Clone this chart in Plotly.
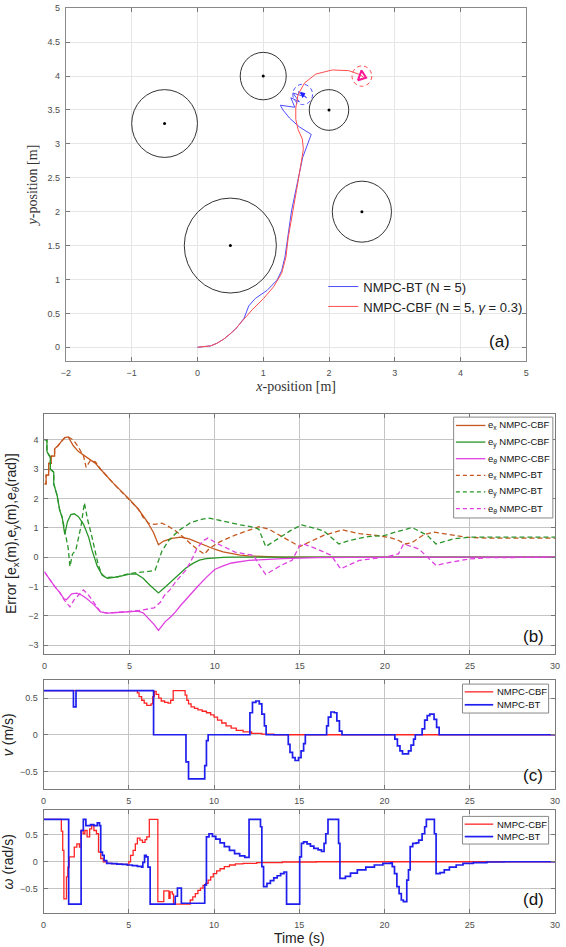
import plotly.graph_objects as go

W, H = 566, 947
def PX(p): return p / W
def PY(p): return 1 - p / H

# ---------------- Panel (a) data ----------------
obs_x = [0.5, -0.5, 1.0, 2.0, 2.5]
obs_y = [1.5, 3.3, 4.0, 3.5, 2.0]
obs_r = [0.7, 0.5, 0.35, 0.3, 0.45]

bt_x = [0, 0.1, 0.2, 0.3, 0.4, 0.5, 0.58, 0.64, 0.71, 0.78, 0.88, 1.06, 1.21, 1.28, 1.33, 1.36,
        1.38, 1.43, 1.505, 1.6, 1.73, 1.55, 1.40, 1.30, 1.26, 1.48, 1.42, 1.55, 1.45, 1.62, 1.53, 1.66, 1.6]
bt_y = [0, 0.005, 0.02, 0.06, 0.12, 0.2, 0.27, 0.34, 0.43, 0.61, 0.72, 0.84, 0.99, 1.13, 1.33, 1.53,
        1.68, 2.01, 2.36, 2.8, 3.14, 3.25, 3.38, 3.50, 3.57, 3.54, 3.68, 3.62, 3.75, 3.70, 3.77, 3.68, 3.73]

cbf_x = [0, 0.1, 0.2, 0.3, 0.4, 0.5, 0.58, 0.64, 0.83, 1.006, 1.156, 1.28, 1.345, 1.38, 1.43, 1.505,
         1.565, 1.61, 1.595, 1.53, 1.495, 1.495, 1.53, 1.63, 1.80, 2.05, 2.30, 2.475, 2.525]
cbf_y = [0, 0.005, 0.02, 0.06, 0.12, 0.2, 0.27, 0.34, 0.55, 0.72, 0.89, 1.09, 1.33, 1.62, 1.92, 2.31,
         2.65, 2.92, 3.07, 3.21, 3.36, 3.53, 3.73, 3.90, 4.03, 4.09, 4.08, 4.02, 3.98]

bt_end = (1.6, 3.73, 0.15)      # final position / dashed circle radius
goal = (2.5, 4.0, 0.15)

# ---------------- Panel (b) data ----------------
ex_cbf_t = [0, 0.1, 0.1, 0.25, 0.25, 0.4, 0.4, 0.6, 0.6, 0.8, 1.0, 1.2, 1.4, 1.7, 2.0, 2.5, 3.0, 3.3, 4.0,
            5.0, 5.5, 6.0, 6.4, 6.7, 7.0, 7.5, 8.0, 8.5, 9.0, 9.5, 10.0, 10.5, 11.0, 11.5, 12.0, 13.0, 14.0, 30]
ex_cbf = [2.5, 2.5, 2.8, 2.8, 3.2, 3.2, 3.45, 3.45, 3.7, 3.8, 3.95, 4.08, 4.1, 3.8, 3.6, 3.4, 3.2, 3.0, 2.55,
          1.97, 1.65, 1.25, 0.85, 0.42, 0.55, 0.64, 0.68, 0.62, 0.5, 0.38, 0.27, 0.18, 0.12, 0.07, 0.04, 0.01, 0.0, 0.0]

ex_bt_t = [0, 0.1, 0.1, 0.25, 0.25, 0.4, 0.4, 0.6, 0.6, 0.8, 1.0, 1.2, 1.4, 1.7, 2.0, 2.3, 2.45, 2.7, 3.0,
           3.3, 4.0, 5.0, 5.5, 5.8, 6.1, 6.45, 6.9, 7.2, 7.7, 8.3, 8.6, 9.0, 9.4, 9.7, 10.3, 11.2, 12.0, 12.6,
           13.2, 13.7, 14.3, 15.0, 15.5, 16.4, 17.5, 18.5, 19.5, 20.2, 20.7, 21.2, 21.6, 22.3, 22.9, 23.8,
           24.75, 26, 30]
ex_bt = [2.5, 2.5, 2.8, 2.8, 3.2, 3.2, 3.45, 3.45, 3.7, 3.8, 3.95, 4.08, 4.1, 4.0, 3.75, 3.45, 3.06, 3.3, 3.25,
         3.0, 2.55, 1.97, 1.65, 1.36, 1.16, 1.12, 1.16, 1.08, 0.9, 0.62, 0.45, 0.26, 0.1, 0.3, 0.52, 0.75, 0.92,
         1.04, 0.95, 0.78, 0.58, 0.36, 0.5, 0.74, 0.93, 0.8, 0.74, 0.68, 0.6, 0.45, 0.5, 0.77, 0.85, 0.76,
         0.68, 0.65, 0.65]

ey_cbf_t = [0, 0.15, 0.15, 0.35, 0.35, 0.55, 0.55, 0.75, 0.9, 1.05, 1.15, 1.2, 1.35, 1.55, 1.75, 2.0, 2.3,
            2.6, 2.8, 3.1, 3.4, 3.7, 4.3, 5.0, 5.4, 5.8, 6.2, 6.7, 7.1, 7.5, 7.9, 8.3, 8.7, 9.1, 9.5, 10.0,
            10.5, 11, 30]
ey_cbf = [4.0, 4.0, 3.6, 3.4, 3.0, 2.9, 2.5, 2.1, 1.6, 1.35, 0.95, 0.78, 1.2, 1.45, 1.48, 1.38, 1.12,
          0.68, 0.23, -0.3, -0.62, -0.72, -0.67, -0.58, -0.57, -0.72, -0.96, -1.22, -1.02, -0.8, -0.57,
          -0.38, -0.22, -0.1, -0.05, -0.02, -0.01, 0.0, 0.0]

ey_bt_t = [0, 0.15, 0.15, 0.35, 0.35, 0.55, 0.55, 0.75, 0.9, 1.05, 1.2, 1.4, 1.5, 1.65, 1.85, 2.0, 2.15,
           2.35, 2.55, 2.75, 2.95, 3.15, 3.35, 3.6, 4.3, 5.0, 5.5, 6.0, 6.5, 6.9, 7.3, 7.9, 8.6, 9.3, 9.7,
           10.5, 11.5, 12.3, 12.6, 13.0, 13.5, 14.0, 14.5, 15.1, 16.4, 17.3, 18.0, 19.0, 20.0, 20.6, 21.6,
           22.5, 23.0, 24.0, 25.0, 30]
ey_bt = [4.0, 4.0, 3.6, 3.4, 3.0, 2.9, 2.5, 2.1, 1.6, 1.35, 0.9, 0.3, -0.32, 0.1, 0.25, 0.68, 1.05,
         1.85, 1.25, 0.8, 0.23, -0.23, -0.57, -0.7, -0.67, -0.56, -0.52, -0.5, -0.45, 0.2, 0.57, 0.91,
         1.18, 1.3, 1.33, 1.22, 1.1, 1.02, 0.95, 0.36, 0.55, 0.75, 0.92, 1.1, 0.9, 0.45, 0.58, 0.7, 0.74,
         0.85, 1.01, 0.74, 0.45, 0.62, 0.68, 0.68]

eth_cbf_t = [0, 0.3, 0.6, 0.9, 1.15, 1.3, 1.6, 1.9, 2.2, 2.5, 2.9, 3.3, 3.7, 4.5, 5.0, 5.5, 5.8, 6.15,
             6.45, 6.7, 6.9, 7.1, 7.4, 7.7, 8.0, 8.3, 8.6, 9.0, 9.5, 10.0, 10.5, 11.0, 12.0, 13.0, 14.0,
             16.0, 18, 30]
eth_cbf = [-0.5, -0.75, -1.0, -1.2, -1.42, -1.45, -1.25, -1.23, -1.3, -1.42, -1.62, -1.87, -1.91, -1.88,
           -1.85, -1.84, -1.9, -2.1, -2.3, -2.5, -2.35, -2.2, -2.05, -1.87, -1.65, -1.45, -1.27, -1.0,
           -0.7, -0.42, -0.3, -0.2, -0.11, -0.07, -0.05, -0.02, -0.01, 0]

eth_bt_t = [0, 0.3, 0.6, 0.9, 1.15, 1.5, 1.75, 2.0, 2.3, 2.6, 2.95, 3.3, 3.7, 4.5, 5.0, 5.5, 5.8, 6.1,
            6.45, 6.8, 7.06, 7.4, 7.7, 8.0, 8.3, 8.6, 8.95, 9.3, 9.6, 10.2, 11.2, 12.3, 12.6, 13.0, 13.9,
            14.55, 15.0, 15.2, 16.0, 16.85, 17.4, 18.5, 20.0, 20.8, 21.1, 22.0, 22.9, 23.0, 23.9, 25.0,
            26, 30]
eth_bt = [-0.5, -0.75, -1.0, -1.2, -1.45, -1.7, -1.45, -1.3, -1.12, -1.3, -1.6, -1.87, -1.91, -1.88,
          -1.85, -1.83, -1.8, -1.77, -1.73, -1.55, -1.3, -1.1, -0.85, -0.65, -0.45, -0.15, 0.28, 0.55,
          0.65, 0.45, 0.17, 0.06, -0.25, -0.59, -0.28, -0.11, 0.4, 0.45, 0.28, 0.06, -0.4, -0.11, 0.0,
          0.11, 0.45, 0.28, -0.2, -0.28, -0.17, -0.06, -0.02, 0]

# ---------------- Panel (c) data (stairs) ----------------
v_cbf_t = [0, 5.5, 5.6, 5.75, 5.9, 6.05, 6.3, 6.4, 6.5, 6.6, 6.75, 6.9, 7.1, 7.3, 7.45, 7.6, 8.3, 8.4,
           8.5, 8.65, 8.85, 9.05, 9.3, 9.55, 9.8, 10.0, 10.2, 10.45, 10.7, 11.0, 11.3, 11.7, 12.2, 12.8,
           13.5, 30]
v_cbf = [0.6, 0.57, 0.52, 0.47, 0.43, 0.4, 0.42, 0.52, 0.59, 0.55, 0.5, 0.46, 0.44, 0.43, 0.47, 0.6,
         0.54, 0.47, 0.42, 0.38, 0.36, 0.34, 0.32, 0.3, 0.27, 0.24, 0.2, 0.16, 0.12, 0.09, 0.06, 0.04,
         0.02, 0.01, 0.0, 0.0]

v_bt_t = [0, 1.75, 1.9, 6.45, 8.35, 8.5, 9.45, 9.55, 9.65, 12.1, 12.25, 12.45, 12.65, 12.8, 12.95, 13.05,
          14.35, 14.45, 14.6, 14.75, 14.95, 15.1, 15.25, 15.35, 16.6, 16.7, 16.85, 17.05, 17.2, 17.35,
          17.5, 20.6, 20.75, 20.9, 21.05, 21.4, 21.55, 21.7, 21.8, 22.2, 22.35, 22.5, 22.65, 22.9, 23.05,
          23.2, 30]
v_bt = [0.6, 0.38, 0.6, 0.0, -0.37, -0.6, -0.42, -0.08, 0.0, 0.3, 0.44, 0.46, 0.42, 0.28, 0.12, 0.0,
        -0.13, -0.24, -0.31, -0.35, -0.31, -0.22, -0.12, 0.0, 0.12, 0.24, 0.31, 0.3, 0.19, 0.05, 0.0,
        -0.06, -0.15, -0.22, -0.26, -0.22, -0.14, -0.06, 0.0, 0.08, 0.2, 0.26, 0.28, 0.21, 0.1, 0.0, 0.0]

# ---------------- Panel (d) data (stairs) ----------------
w_cbf_t = [0, 1.04, 1.12, 1.19, 1.34, 1.42, 1.5, 1.8, 1.95, 2.1, 2.2, 2.32, 2.42, 2.55, 2.7, 2.82, 2.95,
           3.1, 3.22, 3.35, 3.5, 3.7, 4.0, 4.3, 4.6, 4.9, 5.0, 5.1, 5.25, 5.38, 5.5, 5.65, 5.8, 5.95, 6.05,
           6.2, 6.7, 7.05, 7.35, 7.42, 7.55, 7.62, 8.6, 8.75, 8.9, 9.05, 9.2, 9.35, 9.5, 9.65, 9.8, 9.95,
           10.15, 10.35, 10.6, 10.9, 11.25, 11.7, 12.5, 14, 16, 30]
w_cbf = [0.785, 0.57, 0.21, -0.69, -0.28, -0.1, 0.09, 0.27, 0.33, 0.27, 0.58, 0.52, 0.58, 0.46, 0.61,
         0.67, 0.58, 0.52, 0.18, 0.06, 0.0, -0.03, -0.035, -0.045, -0.05, -0.06, 0.0, 0.12, 0.21, 0.33,
         0.44, 0.4, 0.36, 0.41, 0.46, 0.785, -0.74, -0.54, -0.68, -0.56, -0.6, -0.785, -0.71, -0.65, -0.59,
         -0.53, -0.49, -0.44, -0.4, -0.34, -0.28, -0.22, -0.17, -0.13, -0.09, -0.06, -0.04, -0.03, -0.015,
         -0.005, 0.0, 0.0]

w_bt_t = [0, 1.47, 2.2, 2.33, 2.48, 2.75, 2.95, 3.15, 3.28, 3.35, 3.45, 3.55, 3.7, 4.0, 4.3, 4.6, 4.9,
          5.2, 5.5, 5.75, 5.82, 5.92, 6.02, 6.12, 6.25, 7.72, 7.85, 8.08, 9.45, 9.55, 9.7, 9.9, 10.1,
          10.35, 10.6, 10.9, 11.2, 11.5, 11.8, 12.05, 12.72, 12.8, 12.9, 13.1, 13.3, 13.5, 13.7, 13.9,
          14.1, 14.25, 15.02, 15.12, 15.25, 15.45, 15.65, 15.85, 16.1, 16.3, 16.45, 16.55, 16.68, 17.3,
          17.38, 17.7, 18.0, 18.4, 18.9, 19.4, 19.9, 20.35, 20.45, 20.58, 20.72, 20.85, 20.98, 21.1,
          21.3, 21.4, 21.5, 21.65, 21.85, 22.0, 22.2, 22.35, 22.45, 22.92, 23.02, 23.25, 23.5, 23.8,
          24.2, 24.6, 25.2, 26, 27, 30]
w_bt = [0.785, -0.785, 0.58, 0.785, 0.67, 0.69, 0.67, 0.72, 0.67, 0.18, 0.12, 0.02, -0.03, -0.035,
        -0.045, -0.05, -0.06, -0.07, -0.085, -0.1, -0.01, 0.12, 0.09, -0.1, -0.785, -0.64, -0.49, -0.77,
        -0.43, 0.46, 0.52, 0.47, 0.42, 0.35, 0.28, 0.21, 0.15, 0.11, 0.08, 0.785, 0.65, -0.09, -0.46,
        -0.4, -0.35, -0.3, -0.26, -0.22, -0.19, -0.785, 0.09, 0.34, 0.37, 0.33, 0.29, 0.25, 0.22, 0.19,
        0.34, 0.52, 0.785, 0.34, -0.31, -0.27, -0.21, -0.15, -0.1, -0.06, -0.03, -0.02, -0.09, -0.22,
        -0.46, -0.59, -0.71, -0.74, -0.34, -0.15, 0.28, 0.34, 0.35, 0.4, 0.52, 0.65, 0.785, 0.52, -0.22,
        -0.2, -0.15, -0.1, -0.06, -0.03, -0.015, -0.005, 0.0, 0.0]

# ---------------- labels ----------------
leg_a = ["NMPC-BT (N = 5)", "NMPC-CBF (N = 5, <i>γ</i> = 0.3)"]
leg_b = ["e<sub>x</sub> NMPC-CBF", "e<sub>y</sub> NMPC-CBF", "e<sub><i>θ</i></sub> NMPC-CBF",
         "e<sub>x</sub> NMPC-BT", "e<sub>y</sub> NMPC-BT", "e<sub><i>θ</i></sub> NMPC-BT"]
leg_cd = ["NMPC-CBF", "NMPC-BT"]

# ---------------- styles ----------------
C_BLUE_A, C_RED_A = "#4d4dff", "#ff4d4d"
C_EX, C_EY, C_ETH = "#c4581f", "#2a962a", "#e040e0"
C_RED, C_BLUE = "#ff2424", "#1e1eee"
DASH = "5px,3px"
SANS = "Arial"
TICKF = dict(family=SANS, size=9, color="#4d4d4d")

fig = go.Figure()

# Panel (a)
fig.add_trace(go.Scatter(x=bt_x, y=bt_y, mode="lines", line=dict(color=C_BLUE_A, width=1),
                         name=leg_a[0], legend="legend", xaxis="x", yaxis="y"))
fig.add_trace(go.Scatter(x=cbf_x, y=cbf_y, mode="lines", line=dict(color=C_RED_A, width=1),
                         name=leg_a[1], legend="legend", xaxis="x", yaxis="y"))
fig.add_trace(go.Scatter(x=obs_x, y=obs_y, mode="markers", marker=dict(color="black", size=3),
                         showlegend=False, xaxis="x", yaxis="y"))
fig.add_trace(go.Scatter(x=[bt_end[0]], y=[bt_end[1]], mode="markers",
                         marker=dict(symbol="triangle-right", color="#2020ff", size=6, angle=-20),
                         showlegend=False, xaxis="x", yaxis="y"))
fig.add_trace(go.Scatter(x=[goal[0]], y=[goal[1]], mode="markers",
                         marker=dict(symbol="triangle-right-open", color="#ff1493", size=9, angle=20,
                                     line=dict(width=2)),
                         showlegend=False, xaxis="x", yaxis="y"))

shapes = []
for cx, cy, r in zip(obs_x, obs_y, obs_r):
    shapes.append(dict(type="circle", xref="x", yref="y", x0=cx - r, x1=cx + r, y0=cy - r, y1=cy + r,
                       line=dict(color="#333333", width=1), layer="above"))
shapes.append(dict(type="circle", xref="x", yref="y", x0=bt_end[0] - bt_end[2], x1=bt_end[0] + bt_end[2],
                   y0=bt_end[1] - bt_end[2], y1=bt_end[1] + bt_end[2],
                   line=dict(color="#5050ff", width=1, dash="4px,3px")))
shapes.append(dict(type="circle", xref="x", yref="y", x0=goal[0] - goal[2], x1=goal[0] + goal[2],
                   y0=goal[1] - goal[2], y1=goal[1] + goal[2],
                   line=dict(color="#ff4d4d", width=1, dash="4px,3px")))

# Panel (b)
b_series = [(ex_cbf_t, ex_cbf, C_EX, "solid"), (ey_cbf_t, ey_cbf, C_EY, "solid"),
            (eth_cbf_t, eth_cbf, C_ETH, "solid"), (ex_bt_t, ex_bt, C_EX, DASH),
            (ey_bt_t, ey_bt, C_EY, DASH), (eth_bt_t, eth_bt, C_ETH, DASH)]
for (t, y, c, d), nm in zip(b_series, leg_b):
    fig.add_trace(go.Scatter(x=t, y=y, mode="lines", line=dict(color=c, width=1.3, dash=d),
                             name=nm, showlegend=False, xaxis="x2", yaxis="y2"))

# Panel (c)
fig.add_trace(go.Scatter(x=v_cbf_t, y=v_cbf, mode="lines", line=dict(color=C_RED, width=1.3, shape="hv"),
                         name=leg_cd[0], showlegend=False, xaxis="x3", yaxis="y3"))
fig.add_trace(go.Scatter(x=v_bt_t, y=v_bt, mode="lines", line=dict(color=C_BLUE, width=1.7, shape="hv"),
                         name=leg_cd[1], showlegend=False, xaxis="x3", yaxis="y3"))
# Panel (d)
fig.add_trace(go.Scatter(x=w_cbf_t, y=w_cbf, mode="lines", line=dict(color=C_RED, width=1.3, shape="hv"),
                         name=leg_cd[0], showlegend=False, xaxis="x4", yaxis="y4"))
fig.add_trace(go.Scatter(x=w_bt_t, y=w_bt, mode="lines", line=dict(color=C_BLUE, width=1.7, shape="hv"),
                         name=leg_cd[1], showlegend=False, xaxis="x4", yaxis="y4"))

# manual legends for b, c, d
annotations = []
def legend_box(x0, x1, y0, y1, rows, items, fsize):
    shapes.append(dict(type="rect", xref="paper", yref="paper", x0=PX(x0), x1=PX(x1), y0=PY(y1), y1=PY(y0),
                       line=dict(color="#888888", width=1), fillcolor="white", layer="above"))
    for ry, (label, color, dash, lw, lx0, lx1, tx) in zip(rows, items):
        shapes.append(dict(type="line", xref="paper", yref="paper", x0=PX(lx0), x1=PX(lx1), y0=PY(ry), y1=PY(ry),
                           line=dict(color=color, width=lw, dash=dash), layer="above"))
        annotations.append(dict(xref="paper", yref="paper", x=PX(tx), y=PY(ry), text=label, showarrow=False,
                                xanchor="left", yanchor="middle", font=dict(family=SANS, size=fsize, color="#111")))

rows_b = [422.7 + 16.7 * i for i in range(6)]
legend_box(456.7, 557.7, 414.3, 515.7, rows_b,
           [(lab, c, ("solid" if d == "solid" else "4px,3px"), 1.3, 459, 489, 489.5)
            for lab, (_, _, c, d) in zip(leg_b, b_series)], 9.5)
legend_box(465.7, 553.4, 682.7, 711.8, [690.5, 703.5],
           [(leg_cd[0], C_RED, "solid", 1.3, 468, 497, 499), (leg_cd[1], C_BLUE, "solid", 1.7, 468, 497, 499)], 9.5)
legend_box(465.7, 553.4, 815.7, 843.5, [823.5, 836.0],
           [(leg_cd[0], C_RED, "solid", 1.3, 468, 497, 499), (leg_cd[1], C_BLUE, "solid", 1.7, 468, 497, 499)], 9.5)

for txt, x, y in [("(a)", 503, 338), ("(b)", 538, 634.5), ("(c)", 538, 775), ("(d)", 538, 899)]:
    annotations.append(dict(xref="paper", yref="paper", x=PX(x), y=PY(y), text=txt, showarrow=False,
                            xanchor="center", yanchor="middle", font=dict(family=SANS, size=17, color="#111")))

def ax(domain, rng, **kw):
    d = dict(domain=domain, range=rng, showline=True, mirror="ticks", ticks="inside", ticklen=4,
             tickcolor="#777", linecolor="#7a7a7a", linewidth=1, showgrid=True, gridcolor="#c4c4c4",
             gridwidth=1, zeroline=False, tickfont=TICKF, ticklabelstandoff=3, ticklabeloverflow="allow")
    d.update(kw)
    return d

SERIF = dict(family="Liberation Serif", size=14, color="#333")
TF = dict(family=SANS, size=14, color="#222")

fig.update_layout(
    width=W, height=H, autosize=False, margin=dict(l=0, r=0, t=0, b=0),
    paper_bgcolor="white", plot_bgcolor="white", shapes=shapes, annotations=annotations,
    xaxis=ax([PX(62), PX(530.7)], [-2, 5], dtick=1, gridcolor="#e6e6e6", linecolor="#8a8a8a", anchor="y",
             title=dict(text="<i>x</i>-position [m]", font=SERIF, standoff=4)),
    yaxis=ax([PY(357.7), PY(3.3)], [-0.2, 5], dtick=0.5, gridcolor="#e6e6e6", linecolor="#8a8a8a", anchor="x",
             title=dict(text="<i>y</i>-position [m]", font=SERIF, standoff=6)),
    xaxis2=ax([PX(40.1), PX(560)], [0, 30], dtick=5, anchor="y2"),
    yaxis2=ax([PY(652.3), PY(410.7)], [-3.3, 4.9], dtick=1, anchor="x2",
              title=dict(text="Error [e<sub>x</sub>(m),e<sub>y</sub>(m),e<sub><i>θ</i></sub>(rad)]", font=TF, standoff=8)),
    xaxis3=ax([PX(39.3), PX(560)], [0, 30], dtick=5, anchor="y3"),
    yaxis3=ax([PY(788.3), PY(679)], [-0.74, 0.74], tickvals=[-0.5, 0, 0.5], anchor="x3",
              title=dict(text="<i>v</i> (m/s)", font=TF, standoff=8)),
    xaxis4=ax([PX(39.3), PX(560)], [0, 30], dtick=5, anchor="y4",
              title=dict(text="Time (s)", font=TF, standoff=2)),
    yaxis4=ax([PY(913.3), PY(809.3)], [-0.96, 0.96], tickvals=[-0.5, 0, 0.5], anchor="x4",
              title=dict(text="<i>ω</i> (rad/s)", font=TF, standoff=8)),
    legend=dict(x=PX(324), y=PY(268), xanchor="left", yanchor="top", bgcolor="rgba(0,0,0,0)",
                borderwidth=0, font=dict(family=SANS, size=13, color="#222"), tracegroupgap=0,
                itemwidth=30),
)

fig.write_html("out.html", config={"displayModeBar": False},
               post_script="document.body.style.margin='0';document.body.style.overflow='hidden';")
